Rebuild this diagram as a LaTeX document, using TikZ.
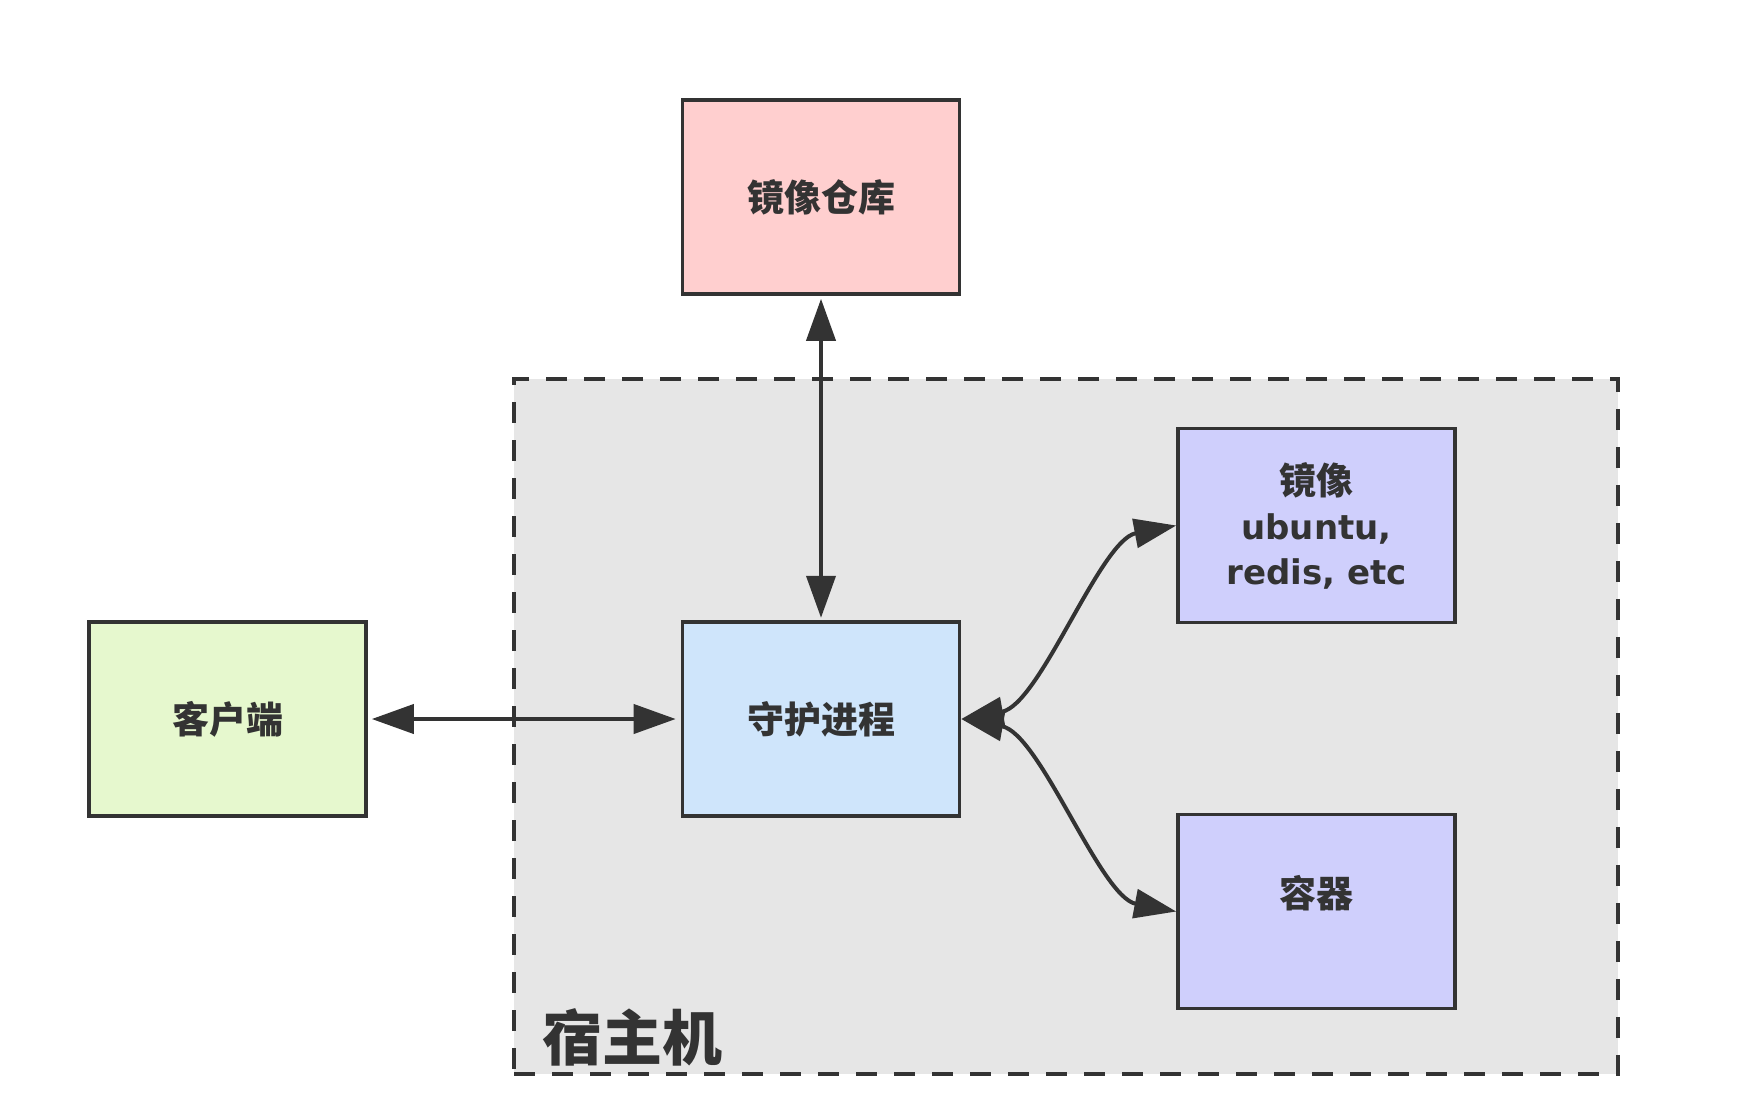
\documentclass[tikz,border=0pt]{standalone}
\usepackage{fontspec}
\newfontfamily\cjk{Noto Sans CJK SC}
\newfontfamily\latb{DejaVu Sans}
\usetikzlibrary{arrows.meta}
\definecolor{lineC}{HTML}{333333}
\definecolor{repoC}{HTML}{FFCFCF}
\definecolor{clientC}{HTML}{E6F8CE}
\definecolor{daemonC}{HTML}{CFE5FB}
\definecolor{imgC}{HTML}{CFCFFC}
\definecolor{hostC}{HTML}{E6E6E6}
\tikzset{
  box/.style={draw=lineC, line width=1.8pt, rectangle, inner sep=0pt,
    minimum width=138.5pt, minimum height=97pt, text=lineC,
    font=\cjk\bfseries\fontsize{18.5}{22.5}\selectfont, align=center},
  conn/.style={draw=lineC, line width=2pt,
    {Triangle[length=21pt,width=14.5pt]}-{Triangle[length=21pt,width=14.5pt]}},
  hostbox/.style={draw=lineC, line width=1.8pt, dash pattern=on 10.5pt off 8.5pt,
    fill=hostC, rectangle, inner sep=0pt, minimum width=552pt, minimum height=347.5pt}
}
\begin{document}
\begin{tikzpicture}[x=0.5pt,y=-0.5pt]
\useasboundingbox[fill=white] (0,0) rectangle (1738,1114);
\node[hostbox] (host) at (1066,726.5) {};
\node[text=lineC, inner sep=0pt, font=\cjk\bfseries\fontsize{30}{36}\selectfont] (hostlabel) at (632,1037) {宿主机};
\node[box, fill=repoC] (repo) at (821,197) {镜像仓库};
\node[box, fill=clientC] (client) at (227.5,719) {客户端};
\node[box, fill=daemonC] (daemon) at (821,719) {守护进程};
\node[box, fill=imgC] (image) at (1316.5,525.5) {镜像\\{\latb\bfseries\fontsize{17}{22.5}\selectfont ubuntu,}\\{\latb\bfseries\fontsize{17}{22.5}\selectfont redis, etc}};
\node[box, fill=imgC] (container) at (1316.5,911.5) {};
\node[text=lineC, inner sep=0pt, font=\cjk\bfseries\fontsize{18.5}{22.5}\selectfont] (containerlabel) at (1316.5,893) {容器};
\draw[conn, shorten <=2pt, shorten >=2.5pt] (client.east) -- (daemon.west);
\draw[conn, shorten <=1.5pt, shorten >=1.2pt] (repo.south) -- (daemon.north);
\draw[conn] (daemon.east) .. controls (1040,705) and (1100,540) .. (image.west);
\draw[conn] (daemon.east) .. controls (1040,733) and (1100,897) .. (container.west);
\end{tikzpicture}
\end{document}
